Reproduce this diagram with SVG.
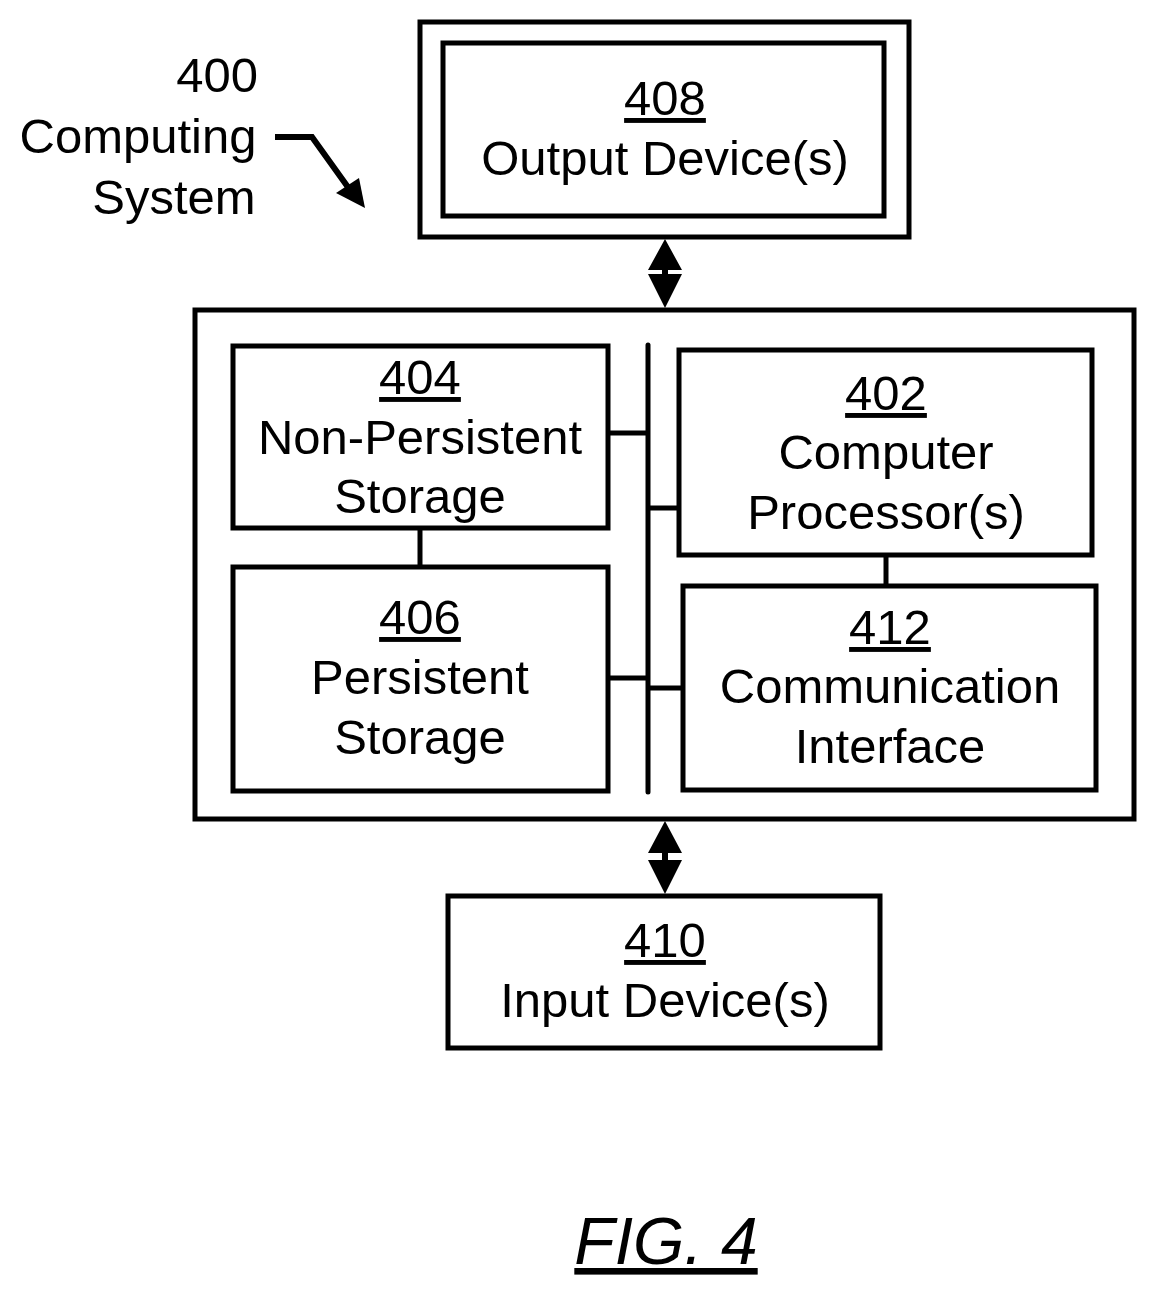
<svg xmlns="http://www.w3.org/2000/svg" width="1157" height="1293" viewBox="0 0 1157 1293">
<style>
.b{fill:none;stroke:#000;stroke-width:5}
.l{fill:none;stroke:#000;stroke-width:5}
text{font-family:"Liberation Sans",Arial,sans-serif;font-size:49px;text-anchor:middle;fill:#000}
</style>
<rect width="1157" height="1293" fill="#fff"/>
<g id="label400">
<text x="258" y="92" style="text-anchor:end">400</text>
<text x="138" y="153">Computing</text>
<text x="174" y="214">System</text>
</g>
<g id="n408">
<rect class="b" x="420" y="22" width="489" height="215"/>
<rect class="b" x="443" y="43" width="441" height="173"/>
<text x="665" y="115" text-decoration="underline">408</text>
<text x="665" y="175">Output Device(s)</text>
</g>
<g id="n400">
<rect class="b" x="195" y="310" width="939" height="509"/>
</g>
<g id="n404">
<rect class="b" x="233" y="346" width="375" height="182"/>
<text x="420" y="394" text-decoration="underline">404</text>
<text x="420" y="454">Non-Persistent</text>
<text x="420" y="513">Storage</text>
</g>
<g id="n406">
<rect class="b" x="233" y="567" width="375" height="224"/>
<text x="420" y="634" text-decoration="underline">406</text>
<text x="420" y="694">Persistent</text>
<text x="420" y="754">Storage</text>
</g>
<g id="n402">
<rect class="b" x="679" y="350" width="413" height="205"/>
<text x="886" y="410" text-decoration="underline">402</text>
<text x="886" y="469">Computer</text>
<text x="886" y="529">Processor(s)</text>
</g>
<g id="n412">
<rect class="b" x="683" y="586" width="413" height="204"/>
<text x="890" y="644" text-decoration="underline">412</text>
<text x="890" y="703">Communication</text>
<text x="890" y="763">Interface</text>
</g>
<g id="n410">
<rect class="b" x="448" y="896" width="432" height="152"/>
<text x="665" y="957" text-decoration="underline">410</text>
<text x="665" y="1017">Input Device(s)</text>
</g>
<g id="connectors">
<line class="l" x1="648" y1="345" x2="648" y2="792" stroke-linecap="round"/>
<line class="l" x1="608" y1="433" x2="648" y2="433"/>
<line class="l" x1="648" y1="508" x2="679" y2="508"/>
<line class="l" x1="608" y1="678" x2="648" y2="678"/>
<line class="l" x1="648" y1="688" x2="683" y2="688"/>
<line class="l" x1="420" y1="528" x2="420" y2="567"/>
<line class="l" x1="886" y1="555" x2="886" y2="586"/>
<line stroke="#000" stroke-width="6" x1="665" y1="262" x2="665" y2="285"/>
<path d="M665,239 L682,270 L648,270 Z M665,308 L682,274 L648,274 Z"/>
<line stroke="#000" stroke-width="6" x1="665" y1="845" x2="665" y2="870"/>
<path d="M665,821 L682,853 L648,853 Z M665,894 L682,860 L648,860 Z"/>
<polyline fill="none" stroke="#000" stroke-width="6" points="275,137 312,137 350,190"/>
<path d="M365,208 L336,193 L359,178 Z"/>
</g>
<g id="caption">
<text x="666" y="1264" style="font-size:66px;font-style:italic" text-decoration="underline">FIG. 4</text>
</g>
</svg>
